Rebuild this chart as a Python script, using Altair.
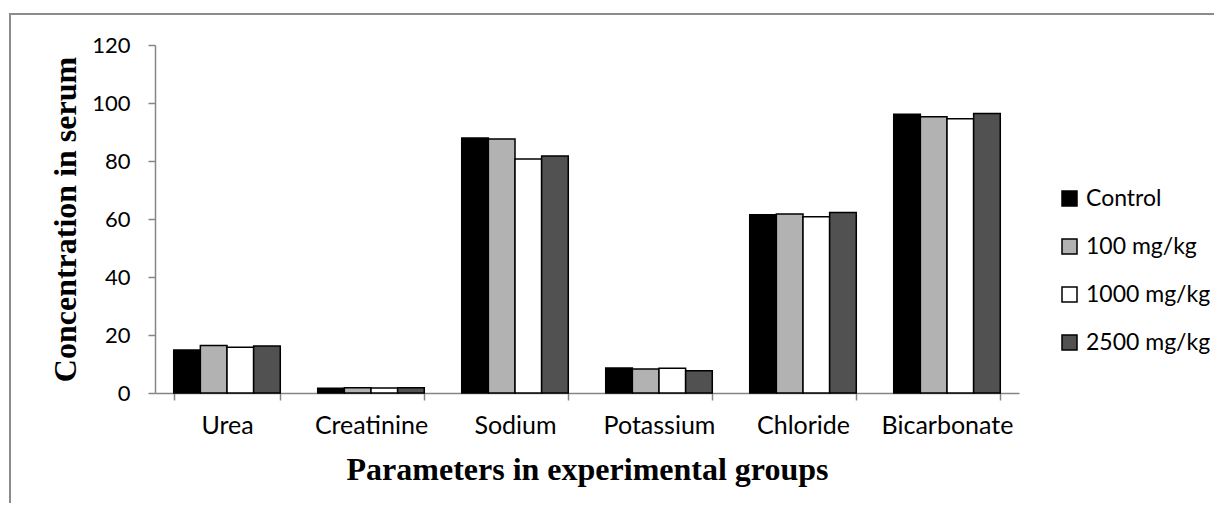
import altair as alt
import pandas as pd

parameters = ["Urea", "Creatinine", "Sodium", "Potassium", "Chloride", "Bicarbonate"]
groups = ["Control", "100 mg/kg", "1000 mg/kg", "2500 mg/kg"]
control = [14.8, 1.6, 87.9, 8.6, 61.5, 96.1]
dose_100 = [16.4, 1.8, 87.6, 8.3, 61.7, 95.3]
dose_1000 = [15.8, 1.7, 80.7, 8.5, 60.8, 94.6]
dose_2500 = [16.2, 1.8, 81.7, 7.7, 62.2, 96.4]
colors = ["#000000", "#b2b2b2", "#ffffff", "#515151"]

rows = []
for g, vals in zip(groups, [control, dose_100, dose_1000, dose_2500]):
    for p, v in zip(parameters, vals):
        rows.append({"Parameter": p, "Group": g, "Value": v})
df = pd.DataFrame(rows)

AX = "#868686"
LABEL_FONT = "Lato"

bars = alt.Chart(df).mark_bar(stroke="black", strokeWidth=1.5).encode(
    x=alt.X("Parameter:N", sort=parameters,
            scale=alt.Scale(paddingInner=0.26, paddingOuter=0.13),
            axis=alt.Axis(title="Parameters in experimental groups",
                          titleFont="Liberation Serif", titleFontSize=32,
                          titleFontWeight="bold", titleColor="black",
                          titleY=86, titleBaseline="alphabetic",
                          labelFont=LABEL_FONT, labelFontSize=25,
                          labelColor="black", labelAngle=0, labelPadding=13,
                          tickBand="extent", tickSize=7, tickColor=AX,
                          domainColor=AX, domainWidth=1.5, tickWidth=1.5)),
    xOffset=alt.XOffset("Group:N", sort=groups,
                        scale=alt.Scale(paddingInner=0, paddingOuter=0)),
    y=alt.Y("Value:Q",
            scale=alt.Scale(domain=[0, 120], nice=False),
            axis=alt.Axis(title="Concentration in serum", values=[0, 20, 40, 60, 80, 100, 120],
                          titleFont="Liberation Serif", titleFontSize=32,
                          titleFontWeight="bold", titleColor="black",
                          titleX=-80, titleY=174, titleAngle=-90,
                          titleAlign="center", titleBaseline="alphabetic",
                          labelFont=LABEL_FONT, labelFontSize=22,
                          labelColor="black", labelPadding=18,
                          tickSize=7, tickColor=AX, domainColor=AX,
                          domainWidth=1.5, tickWidth=1.5, grid=False)),
    fill=alt.Fill("Group:N", sort=groups,
                  scale=alt.Scale(domain=groups, range=colors),
                  legend=alt.Legend(title=None, orient="none",
                                    legendX=903, legendY=142,
                                    symbolType="square", symbolSize=225,
                                    symbolStrokeColor="black", symbolStrokeWidth=1.5,
                                    labelFont=LABEL_FONT, labelFontSize=23,
                                    labelColor="black", rowPadding=24,
                                    labelOffset=5)),
)

border = alt.Chart(pd.DataFrame({"a": [0]})).mark_rect(
    fill=None, stroke="#8c8c8c", strokeWidth=2, clip=False
).encode(
    x=alt.value(-145), x2=alt.value(1075),
    y=alt.value(-31), y2=alt.value(490),
)

chart = alt.layer(border, bars).properties(
    width=864, height=348,
    autosize=alt.AutoSizeParams(type="none"),
    padding={"left": 147, "top": 37, "right": 195, "bottom": 110},
).configure_view(stroke=None)

chart.save("out.html", embed_options={"renderer": "svg", "actions": False})
